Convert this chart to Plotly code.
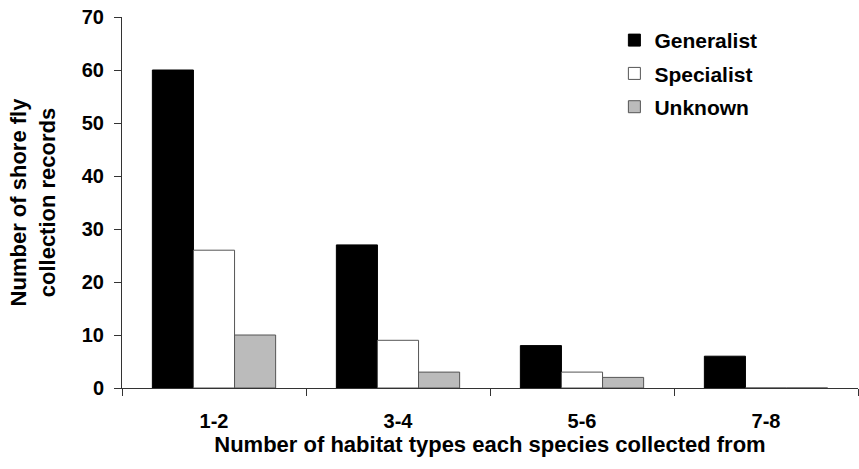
import plotly.graph_objects as go

categories = ["1-2", "3-4", "5-6", "7-8"]
generalist = [60, 27, 8, 6]
specialist = [26, 9, 3, 0]
unknown = [10, 3, 2, 0]
series_names = ["Generalist", "Specialist", "Unknown"]
y_ticks = [0, 10, 20, 30, 40, 50, 60, 70]

FONT = "Liberation Sans"

fig = go.Figure()
styles = [("#000000", "#000000"), ("#ffffff", "#555555"), ("#bbbbbb", "#555555")]
for name, vals, (fill, line) in zip(series_names, [generalist, specialist, unknown], styles):
    fig.add_trace(go.Bar(
        x=categories, y=vals, name=name, legendgroup=name,
        marker=dict(color=fill, line=dict(color=line, width=1)),
    ))

fig.update_layout(
    width=859, height=469,
    margin=dict(l=122, r=1, t=17, b=81),
    paper_bgcolor="white", plot_bgcolor="white",
    barmode="group", bargap=0.33, bargroupgap=0,
    font=dict(family=FONT, size=17, color="black"),
    legend=dict(x=0.669, y=0.992, xanchor="left", yanchor="top",
                font=dict(family=FONT, size=21, color="black", weight="bold"),
                traceorder="grouped", tracegroupgap=3, bgcolor="rgba(0,0,0,0)"),
    xaxis=dict(
        showline=True, linecolor="#333333", linewidth=1,
        ticks="outside", tickson="boundaries", ticklen=7, tickcolor="#333333",
        tickfont=dict(family=FONT, size=20, weight="bold"),
        ticklabelstandoff=15,
        title=dict(text="Number of habitat types each species collected from",
                   font=dict(family=FONT, size=22, weight="bold"), standoff=0),
        showgrid=False,
    ),
    yaxis=dict(
        range=[0, 70], tickvals=y_ticks,
        showline=True, linecolor="#333333", linewidth=1,
        ticks="outside", ticklen=7, tickcolor="#333333",
        tickfont=dict(family=FONT, size=20, weight="bold"),
        ticklabelstandoff=6,
        title=dict(text="Number of shore fly<br>collection records",
                   font=dict(family=FONT, size=22, weight="bold"), standoff=20),
        showgrid=False, zeroline=False,
    ),
)

fig.write_html("out.html", config={"displayModeBar": False},
               post_script="document.body.style.margin='0px';document.body.style.overflow='hidden';")
